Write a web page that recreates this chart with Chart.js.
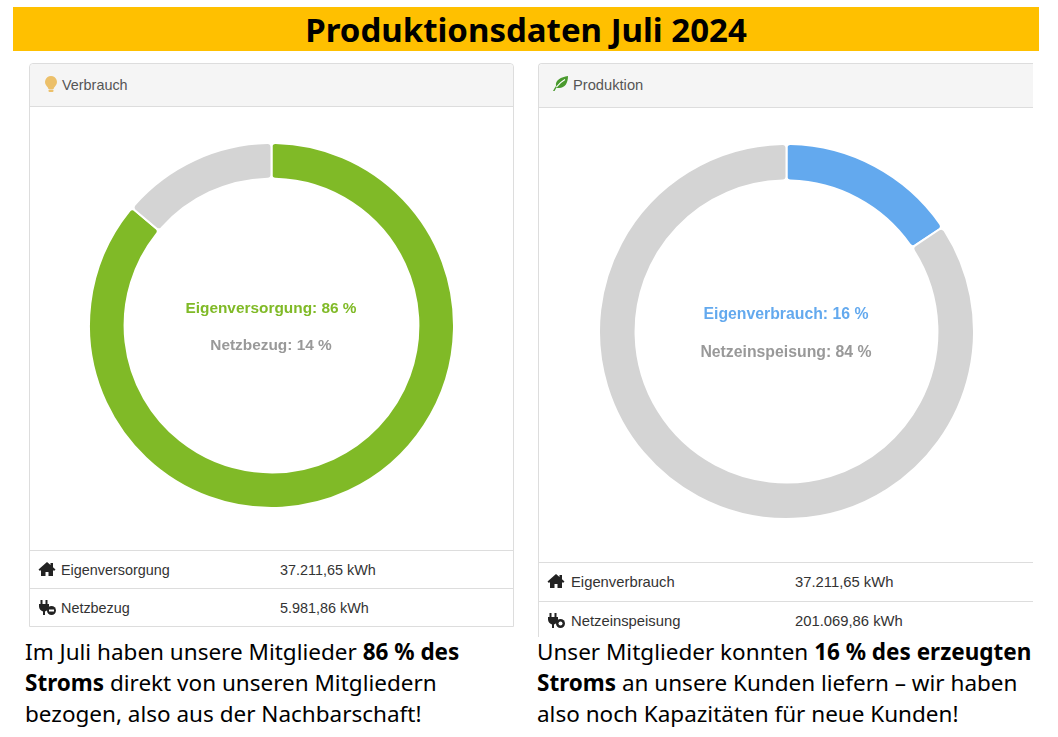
<!DOCTYPE html>
<html lang="de">
<head>
<meta charset="utf-8">
<title>Produktionsdaten Juli 2024</title>
<script src="https://cdn.jsdelivr.net/npm/chart.js@4"></script>
<style>
  html, body { margin: 0; padding: 0; background: #fff; }
  body { position: relative; width: 1058px; height: 737px; overflow: hidden; font-family: "Liberation Sans", Arial, sans-serif; }
  .abs { position: absolute; }
  #banner { left: 13px; top: 7px; width: 1026px; height: 44px; background: #ffc000; color: #000; text-align: center; font: 700 33px/46px "Noto Sans", sans-serif; }
  .panel { position: absolute; box-sizing: border-box; border: 1px solid #ddd; background: #fff; border-radius: 4px 4px 0 0; }
  .head { position: absolute; left: 0; right: 0; top: 0; background: #f5f5f5; border-bottom: 1px solid #ddd; border-radius: 4px 4px 0 0; box-sizing: border-box; color: #555; font-size: 14.4px; }
  .head span { position: absolute; left: 32px; top: 13px; }
  .head svg { position: absolute; left: 13px; top: 11px; }
  .row { position: absolute; left: 0; right: 0; box-sizing: border-box; border-top: 1px solid #ddd; color: #333; font-size: 14.4px; }
  .row svg { position: absolute; left: 8px; top: 10px; }
  .row .k { position: absolute; left: 31px; top: 11px; }
  .row .v { position: absolute; top: 11px; }
  canvas { position: absolute; }
  .mid { position: absolute; width: 300px; text-align: center; font: 700 15.4px "Liberation Sans", Arial, sans-serif; }
  .cap { position: absolute; color: #000; font: 22.5px/31px "Noto Sans", sans-serif; white-space: nowrap; }
</style>
</head>
<body>
<div id="banner" class="abs">Produktionsdaten Juli 2024</div>

<div class="panel" style="left:29px;top:63px;width:485px;height:564px;">
  <div class="head" style="height:43px;">
    <svg width="16" height="18" viewBox="0 0 16 18"><path d="M8 1a6 6 0 0 0-4 10.4c.9.9 1.3 1.7 1.4 2.6h5.2c.1-.9.5-1.7 1.4-2.600A6 6 0 0 0 8 1z" fill="#ecc06a"/><rect x="5.500" y="14.600" width="5" height="2.400" rx="1" fill="#ecc06a"/></svg>
    <span>Verbrauch</span>
  </div>
  <div class="row" style="top:486px;height:38px;">
    <svg width="18" height="16" viewBox="0 0 18 16"><path d="M9 1 0.500 8.500 2 10l1-.9V15h4.500v-4h3v4H15V9.100l1 .9 1.500-1.500L15 6.300V2h-2.500v2L9 1z" fill="#222"/></svg>
    <span class="k">Eigenversorgung</span><span class="v" style="left:250px;">37.211,65 kWh</span>
  </div>
  <div class="row" style="top:524px;height:38px;">
    <svg width="18" height="17" viewBox="0 0 18 17"><path d="M3.500 1v4M8.500 1v4" stroke="#222" stroke-width="2"/><path d="M1 5h10v2.500c0 2.500-2 4.500-4 5V16H5v-3.500c-2-.5-4-2.500-4-5z" fill="#222"/><circle cx="13.500" cy="11.500" r="4.500" fill="#222"/><rect x="11" y="10.500" width="5" height="2" fill="#fff"/></svg>
    <span class="k">Netzbezug</span><span class="v" style="left:250px;">5.981,86 kWh</span>
  </div>
</div>

<div class="panel" style="left:538px;top:63px;width:495px;height:574px;border-right:none;border-bottom:none;border-top-right-radius:0;">
  <div class="head" style="height:44px;border-top-right-radius:0;">
    <svg width="17" height="17" viewBox="0 0 17 17"><path d="M1 16C2 14 3 12.500 4 11 3 5 9 2 16 1c0 7-3 12-9 12-1 0-2-.3-2.500-.6L2.500 16z" fill="#4a9a2e"/><path d="M4.500 12C7 8.500 9.500 6.500 13 4.500" stroke="#fff" stroke-width="1.200" fill="none"/></svg>
    <span style="font-size:14.700px;left:34px;">Produktion</span>
  </div>
  <div class="row" style="top:498px;height:39px;font-size:14.800px;">
    <svg width="18" height="16" viewBox="0 0 18 16"><path d="M9 1 0.500 8.500 2 10l1-.9V15h4.500v-4h3v4H15V9.100l1 .9 1.500-1.500L15 6.300V2h-2.500v2L9 1z" fill="#222"/></svg>
    <span class="k" style="left:32px;">Eigenverbrauch</span><span class="v" style="left:256px;">37.211,65 kWh</span>
  </div>
  <div class="row" style="top:537px;height:37px;font-size:14.800px;">
    <svg width="18" height="17" viewBox="0 0 18 17"><path d="M3.500 1v4M8.500 1v4" stroke="#222" stroke-width="2"/><path d="M1 5h10v2.500c0 2.500-2 4.500-4 5V16H5v-3.500c-2-.5-4-2.500-4-5z" fill="#222"/><circle cx="13.500" cy="11.500" r="4.500" fill="#222"/><circle cx="13.500" cy="11.500" r="2" fill="#fff"/></svg>
    <span class="k" style="left:32px;">Netzeinspeisung</span><span class="v" style="left:256px;">201.069,86 kWh</span>
  </div>
</div>

<canvas id="verbrauchChart" style="left:88px;top:142px;"></canvas>
<canvas id="produktionChart" style="left:598px;top:143px;"></canvas>

<div class="mid" style="left:121px;top:299px;color:#80ba27;">Eigenversorgung: 86 %</div>
<div class="mid" style="left:121px;top:336px;color:#999;">Netzbezug: 14 %</div>
<div class="mid" style="left:636px;top:305px;color:#63a9ee;font-size:15.800px;">Eigenverbrauch: 16 %</div>
<div class="mid" style="left:636px;top:343px;color:#999;font-size:15.800px;">Netzeinspeisung: 84 %</div>

<div class="cap" style="left:25px;top:636px;">Im Juli haben unsere Mitglieder <b>86 % des</b><br><b>Stroms</b> direkt von unseren Mitgliedern<br>bezogen, also aus der Nachbarschaft!</div>
<div class="cap" style="left:537px;top:636px;">Unser Mitglieder konnten <b>16 % des erzeugten</b><br><b>Stroms</b> an unsere Kunden liefern – wir haben<br>also noch Kapazitäten für neue Kunden!</div>

<script>
const verbrauchLabels = ["Eigenversorgung", "Netzbezug"];
const verbrauchValues = [37211.65, 5981.86];
const verbrauchColors = ["#80ba27", "#d4d4d4"];

const produktionLabels = ["Eigenverbrauch", "Netzeinspeisung"];
const produktionValues = [37211.65, 201069.86];
const produktionColors = ["#63a9ee", "#d4d4d4"];

function makeDoughnut(id, size, labels, values, colors) {
  const canvas = document.getElementById(id);
  canvas.style.width = size + "px";
  canvas.style.height = size + "px";
  canvas.width = size;
  canvas.height = size;
  new Chart(canvas.getContext("2d"), {
    type: "doughnut",
    data: {
      labels: labels,
      datasets: [{
        data: values,
        backgroundColor: colors,
        borderColor: "#fff",
        borderWidth: 2,
        borderRadius: 4,
      }],
    },
    options: {
      responsive: false,
      animation: false,
      cutout: "80.500%",
      plugins: {
        legend: { display: false },
        tooltip: { enabled: false },
      },
    },
  });
}

makeDoughnut("verbrauchChart", 367, verbrauchLabels, verbrauchValues, verbrauchColors);
makeDoughnut("produktionChart", 377, produktionLabels, produktionValues, produktionColors);
</script>
</body>
</html>
